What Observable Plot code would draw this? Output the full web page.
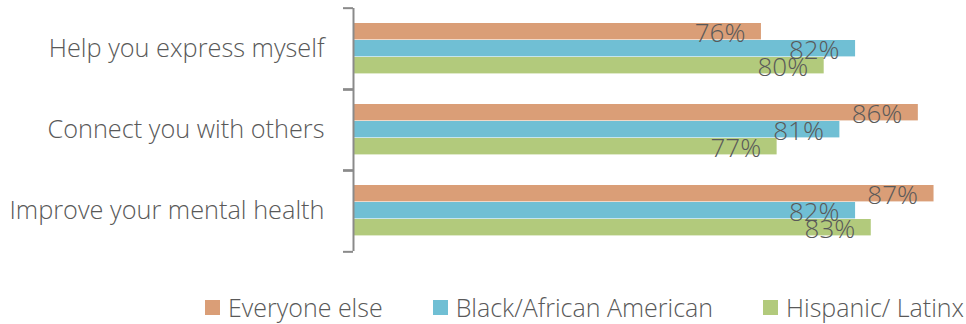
<!DOCTYPE html>
<html>
<head>
<meta charset="utf-8">
<script src="https://cdn.jsdelivr.net/npm/d3@7"></script>
<script src="https://cdn.jsdelivr.net/npm/@observablehq/plot@0.6"></script>
<style>
  html, body { margin: 0; padding: 0; background: #fff; }
  #chart svg { display: block; }
  div.lg-swatches {
    font-family: "Open Sans", sans-serif !important;
    font-weight: 300;
    font-size: 25px !important;
    color: #595959 !important;
    margin: 0 !important;
    padding-left: 205px;
    min-height: 33px;
    flex-wrap: nowrap !important;
    white-space: nowrap;
  }
  div.lg-swatches .lg-swatch { margin-right: 50px !important; }
  div.lg-swatches .lg-swatch:last-child { margin-right: 0 !important; }
  div.lg-swatches .lg-swatch > svg { margin-right: 8px !important; }
</style>
</head>
<body>
<div id="chart"></div>
<script>
// Survey items (top to bottom)
const categories = ["Help you express myself", "Connect you with others", "Improve your mental health"];
// Respondent groups, in legend order
const series = ["Everyone else", "Black/African American", "Hispanic/ Latinx"];
// Percent of each group answering yes, per item
const everyoneElse = [76, 86, 87];
const blackAfricanAmerican = [82, 81, 82];
const hispanicLatinx = [80, 77, 83];
const colors = ["#DA9E77", "#70BFD4", "#B2CA7C"];

const valuesBySeries = [everyoneElse, blackAfricanAmerican, hispanicLatinx];
const rows = categories.flatMap((category, i) =>
  series.map((group, j) => ({category, group, value: valuesBySeries[j][i]}))
);

const font = '"Open Sans", sans-serif';
const textColor = "#595959";
const axisColor = "#8a8a8a";

const height = 290, marginTop = 7, marginBottom = 38;
const facetBand = (height - marginTop - marginBottom) / categories.length;

const chart = Plot.plot({
  width: 966,
  height,
  marginTop,
  marginBottom,
  marginLeft: 353,
  marginRight: 0,
  style: {fontFamily: font, fontWeight: 300, color: textColor, background: "#fff"},
  x: {domain: [50, 90], range: [353, 980.6], axis: null},
  y: {domain: series, paddingInner: 0, paddingOuter: 0.77, axis: null},
  fy: {domain: categories, padding: 0, label: null},
  color: {domain: series, range: colors},
  marks: [
    Plot.barX(rows, {
      fy: "category", y: "group", x1: 50, x2: "value",
      fill: "group", insetBottom: 0.6
    }),
    Plot.text(rows, {
      fy: "category", y: "group", x: "value",
      text: d => `${d.value}%`,
      textAnchor: "end", dx: -16, dy: 1.5,
      fontSize: 26, fill: textColor, fontWeight: 300
    }),
    // axis spine
    Plot.ruleX([50], {stroke: axisColor, strokeWidth: 2}),
    // tick marks between categories
    Plot.axisFy({anchor: "left", text: null, label: null, tickSize: 10, dy: -facetBand / 2, stroke: axisColor, strokeWidth: 2}),
    Plot.axisFy({anchor: "left", text: null, label: null, tickSize: 10, dy: facetBand / 2, stroke: axisColor, strokeWidth: 2}),
    // category labels
    Plot.axisFy({anchor: "left", tickSize: 0, tickPadding: 29, label: null, fontSize: 25.3, fill: textColor})
  ]
});

const legend = Plot.legend({
  legend: "swatches",
  color: {domain: series, range: colors},
  swatchSize: 15,
  className: "lg"
});

const root = document.getElementById("chart");
root.append(chart);
root.append(legend);
</script>
</body>
</html>
